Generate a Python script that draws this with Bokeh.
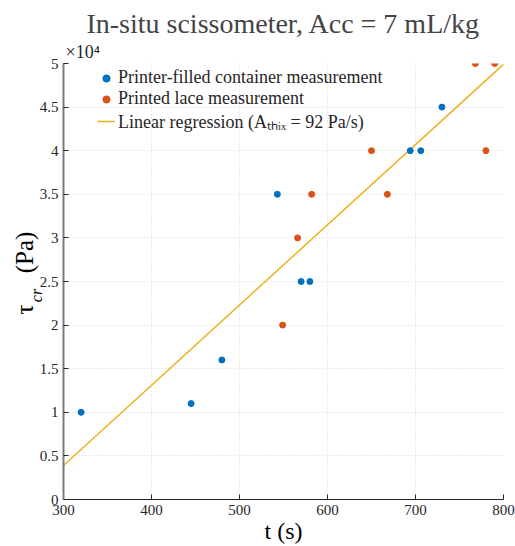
import numpy as np
from math import pi
from bokeh.plotting import figure
from bokeh.models import Range1d, FixedTicker, Legend, LegendItem, Title
from bokeh.embed import file_html
from bokeh.resources import INLINE

# ---- data ----
container_t = [320, 445, 480, 543, 570, 580, 694, 706, 730]
container_tau = [10000, 11000, 16000, 35000, 25000, 25000, 40000, 40000, 45000]
lace_t = [549, 566, 582, 650, 668, 768, 780, 790]
lace_tau = [20000, 30000, 35000, 40000, 35000, 50000, 40000, 50000]
A_thix = 92            # Pa/s
reg_intercept = -23700  # Pa
reg_t = [300, 800]
reg_tau = [A_thix * t + reg_intercept for t in reg_t]
x_ticks = [300, 400, 500, 600, 700, 800]
y_ticks = [0, 5000, 10000, 15000, 20000, 25000, 30000, 35000, 40000, 45000, 50000]
y_tick_labels = ["0", "0.5", "1", "1.5", "2", "2.5", "3", "3.5", "4", "4.5", "5"]

BLUE = "#0072BD"; ORANGE = "#D95319"; YELLOW = "#EDB120"; AX = "#262626"
SERIF = "'Liberation Serif'"
NB = "\u00a0"

p = figure(width=515, height=546, output_backend="svg", toolbar_location=None,
           x_range=Range1d(300, 800), y_range=Range1d(0, 50000), title=None,
           min_border_left=63, min_border_right=12, min_border_top=63, min_border_bottom=47)
p.outline_line_color = None

p.add_layout(Title(text="×10⁴", text_font=SERIF, text_font_size="18px", text_color=AX,
                   text_font_style="normal", align="left", offset=2, standoff=3), "above")
p.add_layout(Title(text="In-situ scissometer, Acc = 7 mL/kg", text_font=SERIF,
                   text_font_size="28px", text_font_style="normal", align="center",
                   standoff=0), "above")

for ax in (p.xaxis[0], p.yaxis[0]):
    ax.major_label_text_font = SERIF
    ax.major_label_text_font_style = "normal"
    ax.major_label_text_font_size = "15px"
    ax.major_label_text_color = AX
    ax.axis_line_color = AX
    ax.major_tick_line_color = AX
    ax.major_tick_in = 5
    ax.major_tick_out = 0
    ax.minor_tick_line_color = None
    ax.major_label_standoff = 5
p.yaxis[0].axis_line_color = "#7a7a7a"
p.yaxis[0].axis_line_width = 2

p.xaxis[0].axis_label = "t (s)"
p.xaxis[0].axis_label_text_font = SERIF
p.xaxis[0].axis_label_text_font_style = "normal"
p.xaxis[0].axis_label_text_font_size = "24px"
p.xaxis[0].axis_label_text_color = "black"
p.xaxis[0].axis_label_standoff = 0

# y label: subscript "cr" as the axis label, "tau ... (Pa)" as a side title
p.yaxis[0].axis_label = "cr" + NB * 7
p.yaxis[0].axis_label_text_font = SERIF
p.yaxis[0].axis_label_text_font_style = "italic"
p.yaxis[0].axis_label_text_font_size = "16px"
p.yaxis[0].axis_label_text_color = "black"
p.yaxis[0].axis_label_standoff = -8
p.add_layout(Title(text="τ" + NB * 5 + "(Pa)", text_font=SERIF, text_font_size="25px",
                   text_font_style="normal", text_color="black",
                   align="left", offset=185, standoff=-27), "left")

p.xaxis[0].ticker = FixedTicker(ticks=x_ticks)
p.yaxis[0].ticker = FixedTicker(ticks=y_ticks)
p.yaxis[0].major_label_overrides = {v: s for v, s in zip(y_ticks, y_tick_labels)}
p.xgrid.ticker = FixedTicker(ticks=x_ticks)
p.ygrid.ticker = FixedTicker(ticks=y_ticks)
for g in (p.xgrid[0], p.ygrid[0]):
    g.grid_line_color = "#d9d9d9"; g.grid_line_dash = "1 2"

r_line = p.line(reg_t, reg_tau, line_color=YELLOW, line_width=1.5)
r_cont = p.scatter(container_t, container_tau, size=6, fill_color=BLUE, line_color=BLUE)
r_lace = p.scatter(lace_t, lace_tau, size=6, fill_color=ORANGE, line_color=ORANGE)

legend = Legend(items=[
    LegendItem(label="Printer-filled container measurement", renderers=[r_cont]),
    LegendItem(label="Printed lace measurement", renderers=[r_lace]),
    LegendItem(label="Linear regression (Aₜₕᵢₓ = 92 Pa/s)", renderers=[r_line]),
], location=(34, 366))
legend.border_line_color = None
legend.background_fill_alpha = 0
legend.label_text_font = SERIF
legend.label_text_font_size = "18px"
legend.label_text_color = AX
legend.glyph_width = 18; legend.glyph_height = 20; legend.label_height = 20
legend.spacing = 0; legend.padding = 0; legend.margin = 0; legend.label_standoff = 3
p.add_layout(legend, "center")

open("out.html", "w").write(file_html(p, INLINE))
